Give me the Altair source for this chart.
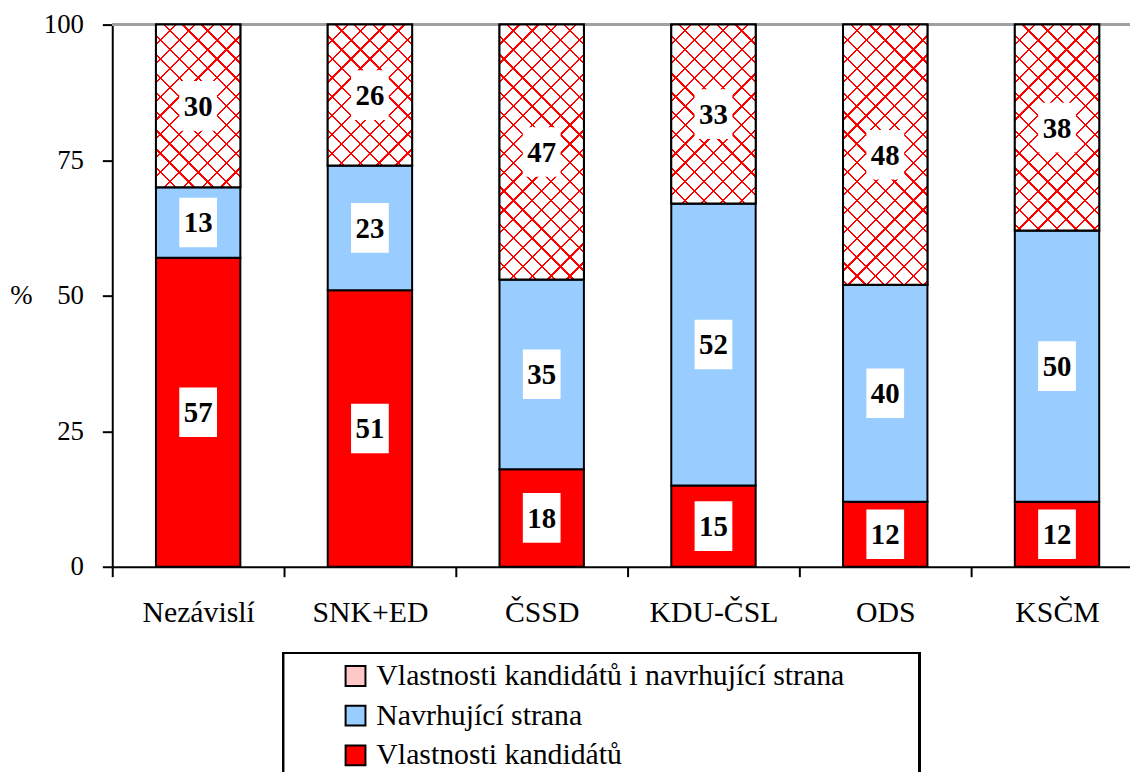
import altair as alt
import pandas as pd

# ---- data -------------------------------------------------------------
parties = ["Nezávislí", "SNK+ED", "ČSSD", "KDU-ČSL", "ODS", "KSČM"]
vlastnosti = [57, 51, 18, 15, 12, 12]          # Vlastnosti kandidátů
strana = [13, 23, 35, 52, 40, 50]              # Navrhující strana
oboji = [30, 26, 47, 33, 48, 38]               # Vlastnosti kandidátů i navrhující strana
series = ["Vlastnosti kandidátů i navrhující strana", "Navrhující strana", "Vlastnosti kandidátů"]
y_ticks = [0, 25, 50, 75, 100]

rows = []
for i, p in enumerate(parties):
    start = 0
    for s, v in [(series[2], vlastnosti[i]), (series[1], strana[i]), (series[0], oboji[i])]:
        rows.append(dict(party=p, series=s, value=v, start=start, end=start + v, mid=start + v / 2))
        start += v
df = pd.DataFrame(rows)

# ---- layout / style ----------------------------------------------------
FONT = "'Liberation Serif', 'Times New Roman', Times, serif"
PLOT_W, PLOT_H = 1025, 546
STEP = 173
BAR_W = 85
PERIOD = 19.0      # horizontal period of lattice lines (px)
LINE = 1.6         # lattice line thickness (px)

x_scale = alt.Scale(domain=parties, range=[0, STEP * len(parties)], paddingInner=0, paddingOuter=0)
y_scale = alt.Scale(domain=[0, 100], nice=False)

X = alt.X("party:N", scale=x_scale, title=None,
          axis=alt.Axis(labelFont=FONT, labelFontSize=30, labelColor="black", labelAngle=0,
                        labelPadding=21, domainColor="black", domainWidth=2, tickColor="black",
                        tickWidth=2, tickSize=10, tickBand="extent", labelLimit=0))
Y = alt.Y("start:Q", scale=y_scale, title="%",
          axis=alt.Axis(values=y_ticks, grid=False, labelFont=FONT, labelFontSize=27,
                        labelColor="black", labelPadding=19, domainColor="black", domainWidth=2,
                        tickColor="black", tickWidth=2, tickSize=10, titleAngle=0, titleX=-92,
                        titleY=PLOT_H / 2, titleAlign="center", titleBaseline="middle",
                        titleFont=FONT, titleFontSize=27, titleFontWeight="normal",
                        titleColor="black"))

color = alt.Color("series:N",
                  scale=alt.Scale(domain=series, range=["#ffc8c8", "#99ccff", "#ff0000"]),
                  legend=alt.Legend(orient="none", legendX=230, legendY=641, title=None,
                                    symbolType="square", symbolSize=400,
                                    symbolStrokeColor="black", symbolStrokeWidth=2,
                                    labelFont=FONT, labelFontSize=30, labelColor="black",
                                    labelOffset=6, rowPadding=10, labelLimit=0, padding=0))

base = alt.Chart(df)

top_rule = alt.Chart(df).mark_rule(color="#a0a0a0", strokeWidth=3).encode(y=alt.datum(100))

bars = base.mark_bar(size=BAR_W, stroke="black", strokeWidth=2).encode(
    x=X, y=Y, y2="end:Q", color=color)


def lattice(h_px, backward, bg):
    k = h_px / BAR_W
    n = BAR_W * (1 + k * k) / PERIOD
    frac = LINE * (2 ** 0.5) / PERIOD
    tmax = (1 + k) / (1 + k * k)
    stops = []
    j = 0
    while j / n <= tmax + 1 / n and j / n < 1:
        a = j / n
        b = min(1.0, (j + frac) / n)
        c = min(1.0, (j + 1) / n)
        stops += [alt.GradientStop(offset=a, color="#ff0000"),
                  alt.GradientStop(offset=b, color="#ff0000"),
                  alt.GradientStop(offset=b, color=bg),
                  alt.GradientStop(offset=c, color=bg)]
        j += 1
    if backward:
        return alt.LinearGradient(gradient="linear", stops=stops, x1=1, y1=0, x2=0, y2=k)
    return alt.LinearGradient(gradient="linear", stops=stops, x1=0, y1=0, x2=1, y2=k)


hatch_layers = []
for i, p in enumerate(parties):
    sub = df[(df.party == p) & (df.series == series[0])]
    h_px = oboji[i] / 100 * PLOT_H
    la = alt.Chart(sub).mark_bar(size=BAR_W, fill=lattice(h_px, False, "#ffffff")).encode(
        x=alt.X("party:N", scale=x_scale), y=alt.Y("start:Q", scale=y_scale), y2="end:Q")
    lb = alt.Chart(sub).mark_bar(size=BAR_W, fill=lattice(h_px, True, "rgba(255,255,255,0)"),
                                 stroke="black", strokeWidth=2).encode(
        x=alt.X("party:N", scale=x_scale), y=alt.Y("start:Q", scale=y_scale), y2="end:Q")
    hatch_layers += [la, lb]

boxes = base.mark_point(shape="M-0.76,-1L0.76,-1L0.76,1L-0.76,1Z", size=2500, filled=True,
                        color="white", opacity=1, strokeWidth=0).encode(
    x=alt.X("party:N", scale=x_scale), y=alt.Y("mid:Q", scale=y_scale))

labels = base.mark_text(font=FONT, fontSize=29, fontWeight="bold", color="black",
                        baseline="middle", align="center", dy=1).encode(
    x=alt.X("party:N", scale=x_scale), y=alt.Y("mid:Q", scale=y_scale), text="value:Q")

legend_box = alt.Chart(df).mark_rect(filled=False, stroke="black", strokeWidth=2).encode(
    x=alt.value(172), x2=alt.value(813), y=alt.value(633), y2=alt.value(790))

chart = alt.layer(top_rule, bars, *hatch_layers, boxes, labels, legend_box).properties(
    width=PLOT_W, height=PLOT_H,
    autosize=alt.AutoSizeParams(type="none"),
    padding={"left": 105, "top": 14, "right": 0, "bottom": 204},
    background="white",
).configure_view(stroke=None)

chart.save("out.html", embed_options={"renderer": "svg", "actions": False})
